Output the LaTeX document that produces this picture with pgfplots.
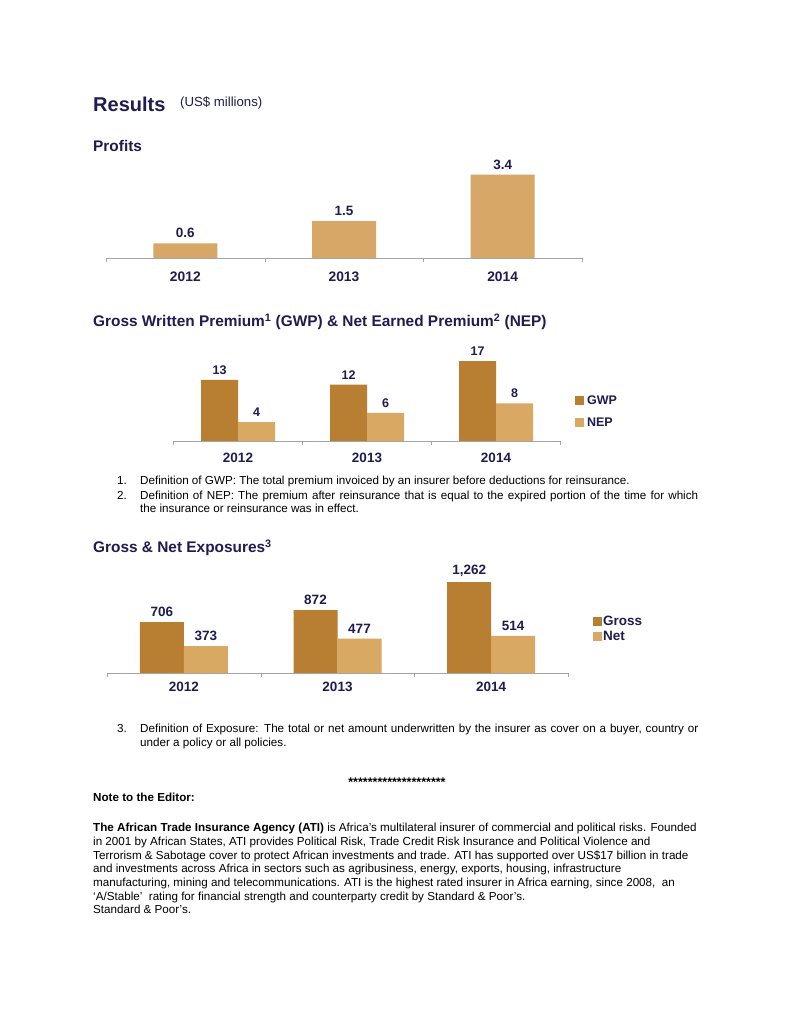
\documentclass[border=0pt]{standalone}
\usepackage{fontspec}
\setmainfont{Liberation Sans}
\usepackage{pgfplots}
\pgfplotsset{compat=1.18}

\definecolor{navy}{RGB}{30,28,80}
\definecolor{gold}{RGB}{184,126,50}
\definecolor{sand}{RGB}{217,168,99}
\definecolor{profit}{RGB}{214,167,102}
\definecolor{axisgray}{RGB}{165,165,165}

\newcommand\fs[1]{\fontsize{#1}{#1}\selectfont}

% common look of the three bar charts
\pgfplotsset{
  yearbars/.style={
    scale only axis,
    clip=false,
    ymin=0,
    xmin=-0.5, xmax=2.5,
    enlargelimits=false,
    axis x line=bottom,
    axis y line=none,
    x axis line style={-, draw=axisgray},
    xtick={0,1,2},
    xticklabels={2012,2013,2014},
    minor xtick={-0.5,0.5,1.5,2.5},
    major tick length=0pt,
    minor tick length=4pt,
    tick align=outside,
    tick style={draw=axisgray},
    ytick=\empty,
    xticklabel style={text=navy, yshift=-10.5pt},
    nodes near coords,
    every node near coord/.append style={text=navy, yshift=2pt},
    /pgf/number format/assume math mode=true,
    /pgf/number format/1000 sep={,},
    legend style={draw=none, fill=none, inner sep=0pt, text=navy,
      nodes={inner sep=1pt}},
    legend cell align=left,
  },
  squarelegend/.style={
    legend image code/.code={\fill[##1] (0pt,-4.5pt) rectangle (9pt,4.5pt);},
  },
}

\begin{document}
\begin{tikzpicture}[x=1pt,y=1pt]
\path[use as bounding box, fill=white] (0,0) rectangle (791,1024);

% ---- headings
\node[anchor=base west, inner sep=0, text=navy, font=\fs{20}\bfseries] at (93,912.3) {Results};
\node[anchor=base west, inner sep=0, text=navy, font=\fs{13.2}] at (180,917) {(US\$ millions)};
\node[anchor=base west, inner sep=0, text=navy, font=\fs{15.4}\bfseries] at (93,872.3) {Profits};

% ---- profits
\begin{axis}[yearbars,
  at={(106pt,766pt)}, anchor=south west,
  width=476pt, height=98pt, ymax=4,
  ybar, bar width=64pt,
  xticklabel style={font=\fs{13.8}\bfseries},
  every node near coord/.append style={font=\fs{13.5}\bfseries},
  nodes near coords={\pgfmathprintnumber[fixed,fixed zerofill,precision=1]{\pgfplotspointmeta}},
]
\addplot[fill=profit, draw=none] coordinates {(0,0.6) (1,1.5) (2,3.4)};
\end{axis}

% ---- GWP and NEP
\node[anchor=base west, inner sep=0, text=navy, font=\fs{15.4}\bfseries] at (93,697)
  {Gross Written Premium\textsuperscript{1} (GWP) \& Net Earned Premium\textsuperscript{2} (NEP)};

\begin{axis}[yearbars,
  at={(173.5pt,583pt)}, anchor=south west,
  width=387pt, height=84.6pt, ymax=18,
  ybar=0pt, bar width=37pt, squarelegend,
  xticklabel style={font=\fs{13.5}\bfseries, yshift=1.5pt},
  every node near coord/.append style={font=\fs{12.5}\bfseries},
  legend style={at={(1.037,0.345)}, anchor=west, font=\fs{12.5}\bfseries, row sep=10pt},
]
\addplot[fill=gold, draw=none] coordinates {(0,13) (1,12) (2,17)};
\addplot[fill=sand, draw=none] coordinates {(0,4) (1,6) (2,8)};
\addlegendentry{\,GWP}
\addlegendentry{\,NEP}
\end{axis}

% ---- footnotes 1 and 2
\begin{scope}[every node/.style={anchor=base west, inner sep=0, font=\fs{11.65}}]
\node at (117,539) {1.};
\node at (140,539) {Definition of GWP: The total premium invoiced by an insurer before deductions for reinsurance.};
\node at (117,524) {2.};
\node at (140,524) {\makebox[558pt][s]{Definition of NEP: The premium after reinsurance that is equal to the expired portion of the time for which}};
\node at (140,511) {the insurance or reinsurance was in effect.};
\end{scope}

% ---- exposures
\node[anchor=base west, inner sep=0, text=navy, font=\fs{15.4}\bfseries] at (93,471)
  {Gross \& Net Exposures\textsuperscript{3}};

\begin{axis}[yearbars,
  at={(107pt,351pt)}, anchor=south west,
  width=461pt, height=93.6pt, ymax=1300,
  ybar=0pt, bar width=44pt, squarelegend,
  xticklabel style={font=\fs{13.5}\bfseries, yshift=4.5pt},
  every node near coord/.append style={font=\fs{13.5}\bfseries},
  legend style={at={(1.054,0.47)}, anchor=west, font=\fs{13.5}\bfseries, row sep=2.5pt},
]
\addplot[fill=gold, draw=none] coordinates {(0,706) (1,872) (2,1262)};
\addplot[fill=sand, draw=none] coordinates {(0,373) (1,477) (2,514)};
\addlegendentry{Gross}
\addlegendentry{Net}
\end{axis}

% ---- footnote 3 and editor's note
\begin{scope}[every node/.style={anchor=base west, inner sep=0, font=\fs{11.65}}]
\node at (117,291) {3.};
\node at (140,291) {\makebox[558pt][s]{Definition of Exposure: The total or net amount underwritten by the insurer as cover on a buyer, country or}};
\node at (140,277) {under a policy or all policies.};
\node[anchor=base, font=\fs{12.5}\bfseries] at (397,237) {********************};
\node[font=\fs{11.65}\bfseries] at (93,222) {Note to the Editor:};
\node at (93,192) {\textbf{The African Trade Insurance Agency (ATI)} is Africa’s multilateral insurer of commercial and political risks. Founded};
\node at (93,178) {in 2001 by African States, ATI provides Political Risk, Trade Credit Risk Insurance and Political Violence and};
\node at (93,164) {Terrorism \& Sabotage cover to protect African investments and trade. ATI has supported over US\$17 billion in trade};
\node at (93,151) {and investments across Africa in sectors such as agribusiness, energy, exports, housing, infrastructure};
\node at (93,137) {manufacturing, mining and telecommunications. ATI is the highest rated insurer in Africa earning, since 2008,\ \ an};
\node at (93,123) {‘A/Stable’\ \ rating for financial strength and counterparty credit by Standard \& Poor’s.};
\node at (93,110) {Standard \& Poor’s.};
\end{scope}
\end{tikzpicture}
\end{document}
